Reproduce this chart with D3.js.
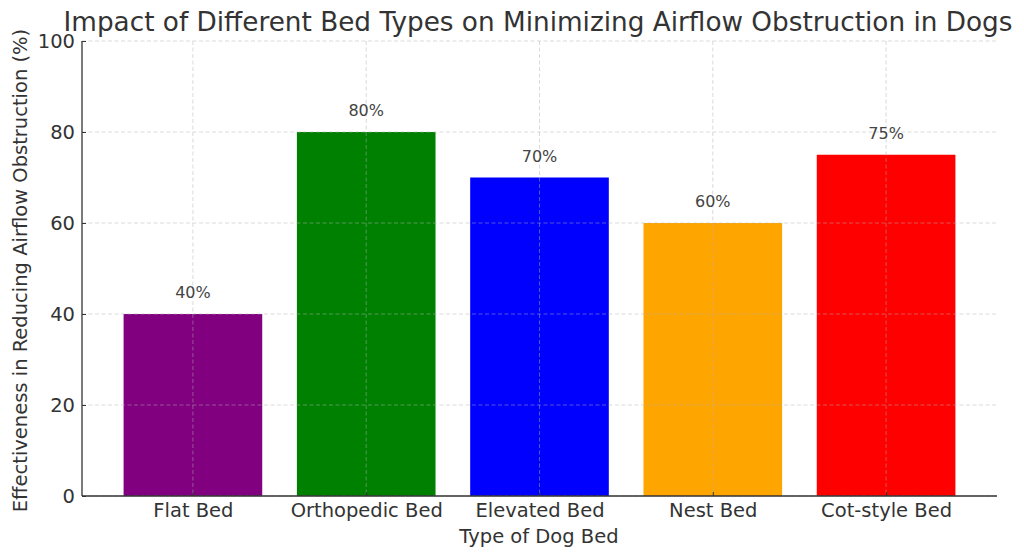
<!DOCTYPE html>
<html><head><meta charset="utf-8">
<script src="https://cdn.jsdelivr.net/npm/d3@7"></script>
<style>body{margin:0;background:#fff}text{font-family:"DejaVu Sans",sans-serif}</style>
</head><body>
<svg id="c" width="1024" height="559"></svg>
<script>
const categories = ["Flat Bed","Orthopedic Bed","Elevated Bed","Nest Bed","Cot-style Bed"];
const values = [40,80,70,60,75];
const colors = ["purple","green","blue","orange","red"];
const yTicks = [0,20,40,60,80,100];

const svg = d3.select("#c");
const L=82,R=997,T=41,B=496;
const x = d3.scaleLinear().domain([-0.64,4.64]).range([L,R]);
const y = d3.scaleLinear().domain([0,100]).range([B,T]);
const bw = x(0.4)-x(0);
const txt="#333";

// bars
svg.selectAll("rect.bar").data(values).enter().append("rect")
  .attr("x",(d,i)=>x(i)-bw).attr("width",2*bw)
  .attr("y",d=>y(d)).attr("height",d=>B-y(d))
  .attr("fill",(d,i)=>colors[i]);

// grid
const g = svg.append("g").attr("stroke","#b0b0b0").attr("stroke-opacity",0.6).attr("stroke-dasharray","4,2.5").attr("stroke-width",0.8);
yTicks.forEach(t=>g.append("line").attr("x1",L).attr("x2",R).attr("y1",y(t)).attr("y2",y(t)));
categories.forEach((c,i)=>g.append("line").attr("x1",x(i)).attr("x2",x(i)).attr("y1",T).attr("y2",B));

// axes
const ya = svg.append("g").attr("transform",`translate(${L},0)`)
  .call(d3.axisLeft(y).tickValues(yTicks).tickSize(-4).tickPadding(7));
const xa = svg.append("g").attr("transform",`translate(0,${B})`)
  .call(d3.axisBottom(x).tickValues(d3.range(categories.length)).tickFormat(i=>categories[i]).tickSize(-4).tickPadding(7));
[ya,xa].forEach(a=>{
  a.select(".domain").attr("stroke",txt).attr("stroke-width",1.3);
  a.selectAll(".tick line").attr("stroke",txt);
  a.selectAll(".tick text").attr("fill",txt).style("font-size","19.5px");
});
ya.select(".domain").attr("d",`M0,${B}V${T}`);
xa.select(".domain").attr("d",`M${L},0H${R}`);

// value labels
svg.selectAll("text.val").data(values).enter().append("text")
  .attr("x",(d,i)=>x(i)).attr("y",d=>y(d+3)-2).attr("text-anchor","middle")
  .attr("fill","#444").style("font-size","16px").text(d=>d+"%");

// title & labels
svg.append("text").attr("x",538).attr("y",31).attr("text-anchor","middle").attr("fill",txt)
  .style("font-size","26.3px").text("Impact of Different Bed Types on Minimizing Airflow Obstruction in Dogs");
svg.append("text").attr("x",539).attr("y",543).attr("text-anchor","middle").attr("fill",txt)
  .style("font-size","19.5px").text("Type of Dog Bed");
svg.append("text").attr("transform",`translate(27,${(T+B)/2+2}) rotate(-90)`).attr("text-anchor","middle").attr("fill",txt)
  .style("font-size","19.5px").text("Effectiveness in Reducing Airflow Obstruction (%)");
</script>
</body></html>
